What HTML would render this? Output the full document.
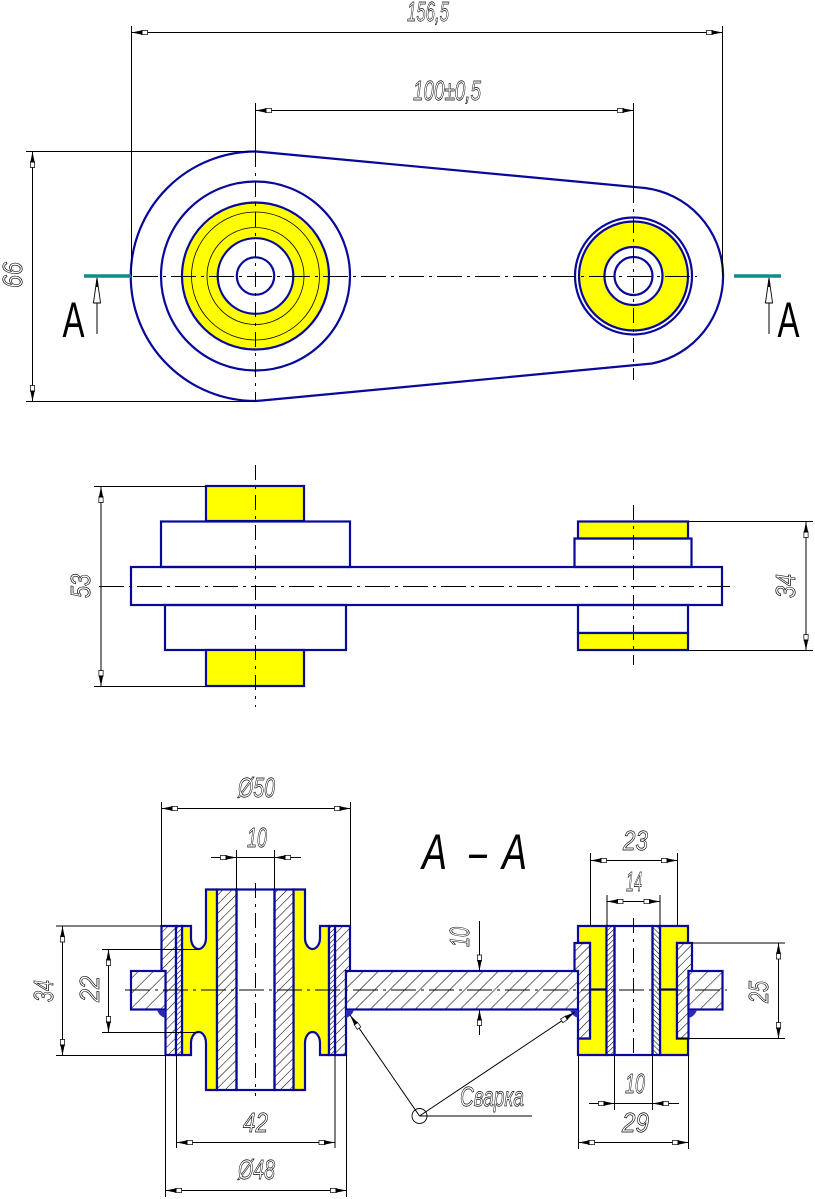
<!DOCTYPE html>
<html><head><meta charset="utf-8"><title>Drawing</title>
<style>
html,body{margin:0;padding:0;background:#fff}
svg{display:block}
.b{fill:none;stroke:#08089a;stroke-width:2.2}
.y{fill:#ff0;stroke:#08089a;stroke-width:2.2}
.t{fill:none;stroke:#000;stroke-width:1}
.c{fill:none;stroke:#000;stroke-width:1;stroke-dasharray:25 5 3 5}
.v{fill:none;stroke:#000;stroke-width:1;stroke-dasharray:15 6 3 6}
.d{fill:none;stroke:#000;stroke-width:1;marker-start:url(#a);marker-end:url(#a)}
.e{fill:none;stroke:#000;stroke-width:1;marker-end:url(#a)}
.s{fill:none;stroke:#000;stroke-width:1;marker-end:url(#s)}
.th{fill:none;stroke:#000;stroke-width:.8}
.h1{fill:url(#h1);stroke:#08089a;stroke-width:2.2}
.h2{fill:url(#h2);stroke:#08089a;stroke-width:2.2}
.h3{fill:url(#h3);stroke:#08089a;stroke-width:2.2}
.h4{fill:url(#h4);stroke:#08089a;stroke-width:2.2}
.w{fill:#2a2ab8;stroke:none}
text{font-family:"Liberation Sans","DejaVu Sans",sans-serif;font-style:italic;font-size:28px;fill:#fff;stroke:#000;stroke-width:.7}
text.big{fill:#000;stroke:none;font-size:50px}
text.A{fill:#000;stroke:none;font-style:normal;font-size:50px}
</style></head><body>
<svg xmlns="http://www.w3.org/2000/svg" width="815" height="1199" viewBox="0 0 815 1199">
<defs>
<marker id="a" markerUnits="userSpaceOnUse" markerWidth="20" markerHeight="8" refX="18" refY="4" orient="auto-start-reverse">
<path d="M8,2 L2,1.8 V6.2 L8,6 Z" fill="#fff" stroke="#000" stroke-width=".7"/>
<path d="M18,4 L7,1.8 V6.2 Z" fill="#000"/>
</marker>
<marker id="s" markerUnits="userSpaceOnUse" markerWidth="28" markerHeight="10" refX="26" refY="5" orient="auto">
<path d="M26,5 L5,2 L1,1.5 V8.5 L5,8 Z" fill="#fff" stroke="#000" stroke-width=".9"/>
<path d="M26,5 L17,3.6 V6.4 Z" fill="#000"/>
</marker>
<pattern id="h1" width="6.5" height="6.5" patternUnits="userSpaceOnUse" patternTransform="rotate(45)"><rect width="6.5" height="6.5" fill="#fff"/><line x1="0" y1="0" x2="0" y2="6.5" stroke="#000" stroke-width="1.1"/></pattern>
<pattern id="h2" width="10.6" height="10.6" patternUnits="userSpaceOnUse" patternTransform="rotate(45)"><rect width="10.6" height="10.6" fill="#fff"/><line x1="0" y1="0" x2="0" y2="10.6" stroke="#000" stroke-width="1.1"/></pattern>
<pattern id="h3" width="3.6" height="3.6" patternUnits="userSpaceOnUse" patternTransform="rotate(45)"><rect width="3.6" height="3.6" fill="#fff"/><line x1="0" y1="0" x2="0" y2="3.6" stroke="#000" stroke-width="1.1"/></pattern>
<pattern id="h4" width="3.6" height="3.6" patternUnits="userSpaceOnUse" patternTransform="rotate(-45)"><rect width="3.6" height="3.6" fill="#fff"/><line x1="0" y1="0" x2="0" y2="3.6" stroke="#000" stroke-width="1.1"/></pattern>
</defs>

<!-- TOP VIEW -->
<path class="b" d="M255.5,151.5 L262,152 L645,188 A89 89 0 0 1 652,363.5 L262,400.5 L255.5,401 A124.75 124.75 0 0 1 255.5,151.5 Z"/>
<circle class="b" cx="255.5" cy="276" r="94.5"/>
<circle class="y" cx="255.5" cy="276" r="73.5"/>
<circle class="th" cx="255.5" cy="276" r="64"/>
<circle class="th" cx="255.5" cy="276" r="48.5"/>
<circle cx="255.5" cy="276" r="37.8" fill="#fff" stroke="#08089a" stroke-width="2.2"/>
<circle class="b" cx="255.5" cy="276" r="18.7"/>
<circle class="b" cx="633.5" cy="276" r="58.5"/>
<circle class="y" cx="633.5" cy="276" r="54.5"/>
<circle cx="633.5" cy="276" r="29" fill="#fff" stroke="#08089a" stroke-width="2.2"/>
<circle class="b" cx="633.5" cy="276" r="19"/>
<line class="c" x1="133" y1="276.5" x2="697" y2="276.5"/>
<line class="v" x1="255.5" y1="152" x2="255.5" y2="401"/>
<line class="v" x1="633.5" y1="188" x2="633.5" y2="380"/>
<path class="t" d="M131.5,26V276 M722.5,26V276 M255.5,103V152 M633.5,103V188 M26,151.5H256 M26,401.5H256"/>
<line class="d" x1="131.5" y1="32.5" x2="722.5" y2="32.5"/>
<line class="d" x1="255.5" y1="110.5" x2="633.5" y2="110.5"/>
<line class="d" x1="32.5" y1="151.5" x2="32.5" y2="401.5"/>
<path d="M84,276H131 M734,276H781" stroke="#0e8c8c" stroke-width="3.4" fill="none"/>
<line class="s" x1="97" y1="334" x2="97" y2="278"/>
<line class="s" x1="769" y1="334" x2="769" y2="278"/>
<text class="A" x="62.5" y="337" textLength="22" lengthAdjust="spacingAndGlyphs">А</text>
<text class="A" x="777.5" y="337" textLength="22" lengthAdjust="spacingAndGlyphs">А</text>
<text x="407" y="21" textLength="42" lengthAdjust="spacingAndGlyphs">156,5</text>
<text x="413" y="100" textLength="68" lengthAdjust="spacingAndGlyphs">100±0,5</text>
<text transform="translate(22,288) rotate(-90)" textLength="26" lengthAdjust="spacingAndGlyphs">66</text>

<!-- MIDDLE VIEW -->
<rect class="y" x="206" y="486" width="98" height="35"/>
<rect class="b" x="161" y="521.5" width="189" height="45.5"/>
<rect class="b" x="131" y="567" width="591" height="38"/>
<rect class="b" x="165" y="605" width="181" height="45"/>
<rect class="y" x="206" y="650" width="98" height="36"/>
<rect class="y" x="578" y="521.5" width="110" height="17"/>
<rect class="b" x="574.5" y="538.5" width="117" height="28.5"/>
<rect class="b" x="578" y="605" width="110" height="28"/>
<rect class="y" x="578" y="633" width="110" height="17"/>
<line class="c" x1="99" y1="586.5" x2="730" y2="586.5"/>
<line class="v" x1="255.5" y1="465" x2="255.5" y2="707"/>
<line class="v" x1="633.5" y1="505" x2="633.5" y2="665"/>
<path class="t" d="M94,486.5H206 M94,686.5H206 M688,521.5H813 M688,650.5H813"/>
<line class="d" x1="101" y1="486.5" x2="101" y2="686.5"/>
<line class="d" x1="806" y1="521.5" x2="806" y2="650.5"/>
<text transform="translate(90,598) rotate(-90)" textLength="24" lengthAdjust="spacingAndGlyphs">53</text>
<text transform="translate(795,598) rotate(-90)" textLength="24" lengthAdjust="spacingAndGlyphs">34</text>

<!-- SECTION: left bush -->
<path class="y" d="M182,926 H191 V938 A7.5 11 0 0 0 206,938 V889.5 H217 V1090 H206 V1043 A7.5 11 0 0 0 191,1043 V1055 H182 Z"/>
<path class="y" d="M329,926 H320 V938 A7.5 11 0 0 1 305,938 V889.5 H293.5 V1090 H305 V1043 A7.5 11 0 0 1 320,1043 V1055 H329 Z"/>
<rect class="h1" x="217" y="889.5" width="19.5" height="200.5"/>
<rect class="h1" x="274.5" y="889.5" width="19" height="200.5"/>
<rect class="b" x="236.5" y="889.5" width="38" height="200.5"/>
<path class="h1" d="M161.5,926 H176 V1055 H165.5 V971 H161.5 Z"/>
<rect class="h3" x="176" y="926" width="6" height="129"/>
<path class="h1" d="M350,926 H335 V1055 H346 V971 H350 Z"/>
<rect class="h3" x="329" y="926" width="6" height="129"/>
<rect class="h2" x="131" y="971" width="34.5" height="38.5"/>
<!-- bar -->
<rect class="h2" x="346" y="971" width="232.5" height="38.5"/>
<!-- right bush -->
<path class="y" d="M578,926 H606.5 V1055 H578 V1038.5 H590 V943 H578 Z"/>
<path class="y" d="M688,926 H660 V1055 H688 V1038.5 H677 V943 H688 Z"/>
<path class="b" d="M590,989.5H606.5 M660,989.5H677" />
<rect class="h3" x="606.5" y="926" width="8" height="129"/>
<rect class="h4" x="652.5" y="926" width="7.5" height="129"/>
<rect class="b" x="614.5" y="926" width="38" height="129"/>
<path class="h1" d="M574.5,943 H590 V1038.5 H578 V971 H574.5 Z"/>
<path class="h1" d="M692,943 H677 V1038.5 H688.5 V971 H692 Z"/>
<rect class="h2" x="688.5" y="971" width="34" height="38.5"/>
<!-- welds -->
<path class="w" d="M165,1010 H157 Q159,1016 165,1018 Z"/>
<path class="w" d="M346,1010 H354 Q352,1016 346,1018 Z"/>
<path class="w" d="M578,1010 H570 Q572,1016 578,1018 Z"/>
<path class="w" d="M689,1010 H697 Q695,1016 689,1018 Z"/>
<!-- centre lines -->
<line class="c" x1="125" y1="990" x2="727" y2="990"/>
<line class="v" x1="255.5" y1="883" x2="255.5" y2="1096"/>
<line class="v" x1="633.5" y1="918" x2="633.5" y2="1059"/>
<!-- extension lines -->
<path class="t" d="M161.5,802V926 M350.5,802V926 M236.5,850V889 M274.5,850V889 M56,926H162 M56,1055.5H166 M102,949.5H198 M102,1032.5H198 M165.5,1055V1197 M346.5,1055V1197 M176.5,1055V1148 M335,1055V1148 M590.5,853V926 M677.5,853V926 M607,895V926 M660,895V926 M578.5,1055V1149 M688.5,1055V1149 M614.5,1055V1110 M652.5,1055V1110 M692,943H785 M677,1038.5H785 M479.5,921V971 M479.5,1009V1035 M419.5,1116H532"/>
<line class="d" x1="161.5" y1="808.5" x2="350.5" y2="808.5"/>
<line class="e" x1="211" y1="857.5" x2="236.5" y2="857.5"/>
<line class="e" x1="301" y1="857.5" x2="274.5" y2="857.5"/>
<line class="t" x1="236.5" y1="857.5" x2="274.5" y2="857.5"/>
<line class="d" x1="62.5" y1="926" x2="62.5" y2="1055.5"/>
<line class="d" x1="108.5" y1="949.5" x2="108.5" y2="1032.5"/>
<line class="d" x1="176.5" y1="1142.5" x2="335" y2="1142.5"/>
<line class="d" x1="165.5" y1="1190.5" x2="346.5" y2="1190.5"/>
<line class="d" x1="590.5" y1="860.5" x2="677.5" y2="860.5"/>
<line class="d" x1="607" y1="901.5" x2="660" y2="901.5"/>
<line class="e" x1="589" y1="1103.5" x2="614.5" y2="1103.5"/>
<line class="e" x1="679" y1="1103.5" x2="652.5" y2="1103.5"/>
<line class="t" x1="614.5" y1="1103.5" x2="652.5" y2="1103.5"/>
<line class="d" x1="578.5" y1="1142.5" x2="688.5" y2="1142.5"/>
<line class="d" x1="778.5" y1="943" x2="778.5" y2="1038.5"/>
<line class="e" x1="479.5" y1="946" x2="479.5" y2="971"/>
<line class="e" x1="479.5" y1="1035" x2="479.5" y2="1009.5"/>
<circle cx="419.5" cy="1116" r="7.5" fill="none" stroke="#000" stroke-width=".9"/>
<line class="e" x1="419.5" y1="1116" x2="350" y2="1015"/>
<line class="e" x1="419.5" y1="1116" x2="575" y2="1012"/>
<!-- labels -->
<text class="big" x="422" y="869" textLength="25" lengthAdjust="spacingAndGlyphs">А</text>
<text class="big" x="469" y="869" textLength="18" lengthAdjust="spacingAndGlyphs">–</text>
<text class="big" x="502" y="869" textLength="25" lengthAdjust="spacingAndGlyphs">А</text>
<text x="238" y="797" textLength="37" lengthAdjust="spacingAndGlyphs">Ø50</text>
<text x="247" y="847" textLength="20" lengthAdjust="spacingAndGlyphs">10</text>
<text transform="translate(53,1002) rotate(-90)" textLength="22" lengthAdjust="spacingAndGlyphs">34</text>
<text transform="translate(99,1002) rotate(-90)" textLength="26" lengthAdjust="spacingAndGlyphs">22</text>
<text x="243" y="1132" textLength="25" lengthAdjust="spacingAndGlyphs">42</text>
<text x="238" y="1179" textLength="37" lengthAdjust="spacingAndGlyphs">Ø48</text>
<text x="623" y="850" textLength="25" lengthAdjust="spacingAndGlyphs">23</text>
<text x="626" y="891" textLength="16" lengthAdjust="spacingAndGlyphs">14</text>
<text x="625" y="1093" textLength="20" lengthAdjust="spacingAndGlyphs">10</text>
<text x="622" y="1132" textLength="27" lengthAdjust="spacingAndGlyphs">29</text>
<text transform="translate(768,1003) rotate(-90)" textLength="22" lengthAdjust="spacingAndGlyphs">25</text>
<text transform="translate(469,947) rotate(-90)" textLength="20" lengthAdjust="spacingAndGlyphs">10</text>
<text x="460" y="1106" textLength="64" lengthAdjust="spacingAndGlyphs">Сварка</text>
</svg>
</body></html>
